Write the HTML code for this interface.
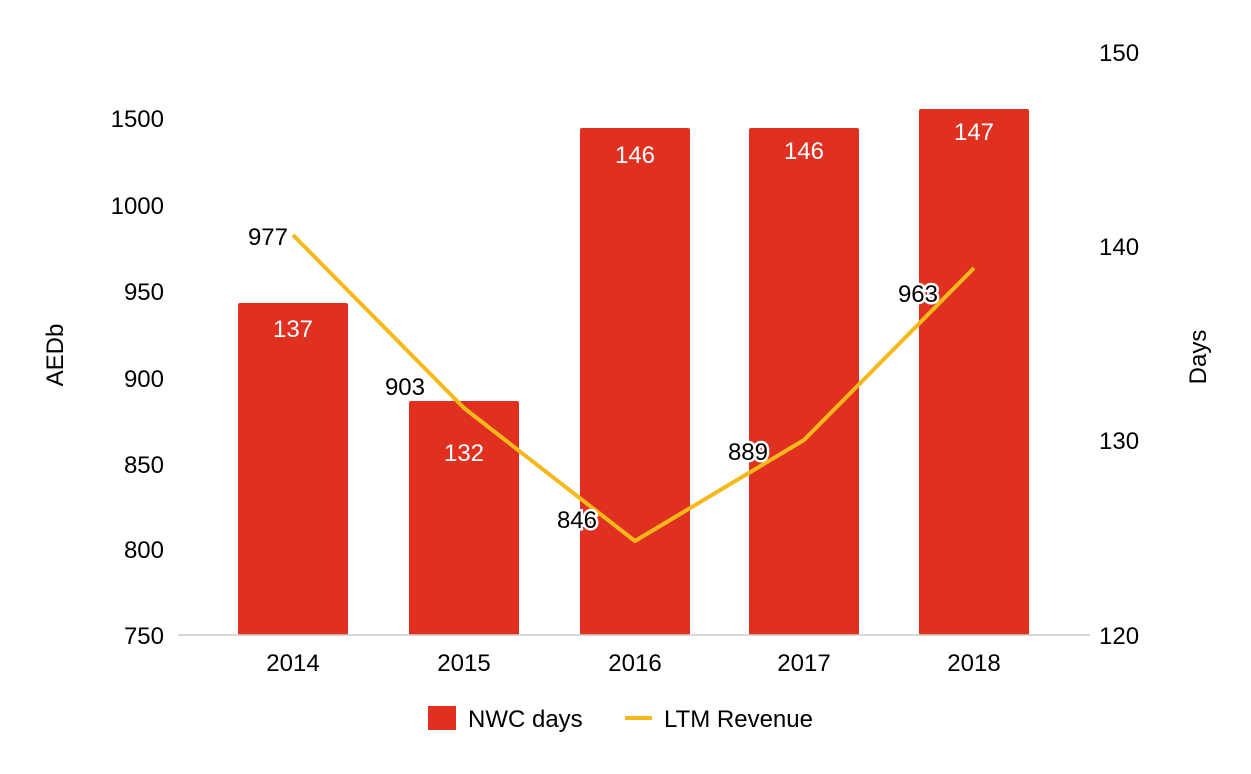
<!DOCTYPE html>
<html><head><meta charset="utf-8"><style>
html,body{margin:0;padding:0;background:#fff}
svg{display:block;font-family:"Liberation Sans",Arial,sans-serif}
</style></head><body>
<svg width="1251" height="774" viewBox="0 0 1251 774" xmlns="http://www.w3.org/2000/svg">
<rect width="1251" height="774" fill="#fff"/>
<g font-size="24" fill="#000" text-anchor="end">
<text x="164" y="127">1500</text>
<text x="164" y="214">1000</text>
<text x="164" y="300">950</text>
<text x="164" y="387">900</text>
<text x="164" y="473">850</text>
<text x="164" y="558">800</text>
<text x="164" y="644">750</text>
</g>
<g font-size="24" fill="#000" text-anchor="start">
<text x="1099" y="61">150</text>
<text x="1099" y="255">140</text>
<text x="1099" y="449">130</text>
<text x="1099" y="644">120</text>
</g>
<text font-size="24" transform="translate(63,355) rotate(-90)" text-anchor="middle">AEDb</text>
<text font-size="24" transform="translate(1206,357) rotate(-90)" text-anchor="middle">Days</text>
<g fill="#e03120">
<rect x="238" y="303" width="110" height="332" rx="2"/>
<rect x="409" y="401" width="110" height="234" rx="2"/>
<rect x="580" y="128" width="110" height="507" rx="2"/>
<rect x="749" y="128" width="110" height="507" rx="2"/>
<rect x="919" y="109" width="110" height="526" rx="2"/>
</g>
<line x1="178" y1="635" x2="1090" y2="635" stroke="#ccc" stroke-width="1.5"/>
<polyline points="293,235 464,408 635,541 804,440 974,268" fill="none" stroke="#f6b81a" stroke-width="4" stroke-linejoin="round"/>
<g font-size="24" text-anchor="middle" fill="#fff" stroke="#e03120" stroke-width="4" paint-order="stroke">
<text x="293" y="337">137</text>
<text x="464" y="461">132</text>
<text x="635" y="163">146</text>
<text x="804" y="159">146</text>
<text x="974" y="140">147</text>
</g>
<g font-size="24" text-anchor="end" fill="#000" stroke="#fff" stroke-width="5" paint-order="stroke">
<text x="288" y="245">977</text>
<text x="425" y="395">903</text>
<text x="597" y="528">846</text>
<text x="768" y="460">889</text>
<text x="938" y="302">963</text>
</g>
<g font-size="24" text-anchor="middle" fill="#000">
<text x="293" y="671">2014</text>
<text x="464" y="671">2015</text>
<text x="635" y="671">2016</text>
<text x="804" y="671">2017</text>
<text x="974" y="671">2018</text>
</g>
<rect x="428" y="706" width="28" height="24" fill="#e03120"/>
<text x="468" y="727" font-size="24">NWC days</text>
<line x1="625" y1="718" x2="652" y2="718" stroke="#f6b81a" stroke-width="4"/>
<text x="664" y="727" font-size="24">LTM Revenue</text>
</svg>
</body></html>
